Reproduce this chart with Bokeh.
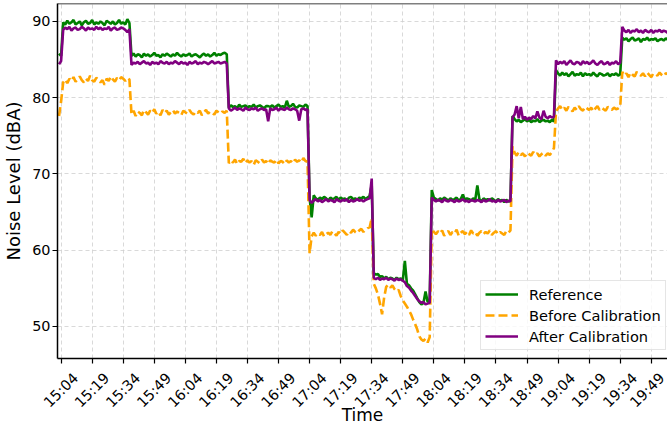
import math
from datetime import datetime, timedelta

from bokeh.plotting import figure
from bokeh.models import (Range1d, FixedTicker, CustomJSTickFormatter, DatetimeAxis,
                          Legend, LegendItem, Span, ColumnDataSource)
from bokeh.embed import file_html
from bokeh.resources import INLINE

# One reading per minute, starting at 15:03
start_time = datetime(2024, 5, 20, 15, 3)

reference = [
    85.8, 85.5,
    # 15:05 - 15:37
    89.9, 89.6, 90.1, 89.7, 89.9, 90.2, 89.6, 89.8, 90.0, 89.5,
    89.9, 90.1, 89.7, 89.8, 90.2, 89.6, 89.9, 89.7, 90.0, 89.8,
    89.5, 90.1, 89.9, 89.7, 90.0, 89.6, 89.8, 90.2, 89.7, 89.9,
    89.6, 90.3, 89.8,
    # 15:38 - 16:24
    85.5, 85.8, 85.4, 85.7, 85.6, 85.3, 85.8, 85.5, 85.7, 85.4,
    85.6, 85.9, 85.5, 85.6, 85.3, 85.7, 85.5, 85.8, 85.6, 85.4,
    85.7, 85.5, 85.9, 85.6, 85.4, 85.7, 85.5, 85.6, 85.8, 85.4,
    85.6, 85.7, 85.5, 85.3, 85.6, 85.8, 85.5, 85.7, 85.4, 85.6,
    85.9, 85.5, 85.7, 85.6, 85.8, 85.9, 85.7,
    # 16:25 - 17:03
    78.7, 79.0, 78.8, 78.9, 78.6, 79.1, 78.8, 78.9, 79.0, 78.7,
    78.9, 78.8, 79.1, 78.7, 78.9, 79.0, 78.8, 78.6, 78.9, 78.9,
    78.8, 79.0, 78.7, 78.9, 79.1, 78.8, 78.9, 78.7, 79.6, 78.8,
    78.9, 79.2, 78.8, 78.7, 79.0, 78.9, 78.8, 79.1, 78.9,
    # 17:04 - 17:34
    66.9, 64.3, 67.2, 66.8, 66.6, 66.9, 66.7, 67.0, 66.8, 66.5,
    66.9, 66.7, 66.8, 67.0, 66.6, 66.9, 66.7, 66.8, 66.5, 66.9,
    67.0, 66.7, 66.8, 66.6, 66.9, 66.8, 67.0, 66.7, 66.9, 67.1,
    68.6,
    # 17:35 - 18:02
    57.0, 56.8, 56.9, 56.5, 56.6, 56.3, 56.5, 56.2, 56.4, 56.3,
    56.1, 56.4, 56.2, 56.3, 56.0, 58.6, 55.6, 55.4, 55.0, 54.7,
    54.2, 53.7, 53.2, 52.9, 53.1, 54.6, 53.2, 53.4,
    # 18:03 - 18:41
    67.9, 66.9, 66.7, 66.5, 66.8, 66.6, 66.9, 66.7, 66.5, 66.8,
    66.6, 66.7, 66.9, 66.5, 66.7, 67.3, 66.6, 66.8, 66.7, 66.5,
    66.8, 66.6, 68.5, 66.7, 66.4, 66.8, 66.6, 66.7, 66.5, 66.8,
    66.6, 66.4, 66.7, 66.5, 66.6, 66.3, 66.6, 66.4, 66.5,
    # 18:42 - 19:02
    77.6, 77.2, 76.9, 77.1, 76.8, 77.0, 77.2, 76.9, 77.1, 76.8,
    77.0, 76.9, 77.2, 76.8, 77.0, 77.1, 76.9, 77.0, 76.8, 77.1,
    76.9,
    # 19:03 - 19:34
    83.6, 83.2, 82.9, 83.3, 83.0, 83.2, 82.8, 83.1, 83.4, 82.9,
    83.1, 83.0, 83.3, 82.8, 83.2, 83.0, 83.1, 82.9, 83.3, 83.0,
    82.8, 83.2, 83.1, 82.9, 83.0, 83.2, 82.8, 83.1, 83.0, 83.2,
    82.9, 83.1,
    # 19:35 - 19:58
    87.9, 87.6, 87.8, 87.4, 87.7, 87.9, 87.5, 87.6, 87.8, 87.3,
    87.7, 87.6, 87.9, 87.5, 87.7, 87.6, 87.8, 87.4, 87.6, 87.7,
    87.5, 87.8, 87.6, 87.7,
]

before_calibration = [
    77.6, 79.5,
    82.0, 82.4, 81.9, 82.5, 82.2, 82.7, 82.1, 82.4, 82.8, 82.3,
    82.0, 82.5, 82.2, 82.9, 82.3, 82.1, 82.6, 82.4, 82.0, 82.3,
    81.7, 82.5, 82.2, 82.8, 82.4, 82.1, 82.6, 82.3, 82.7, 82.5,
    82.2, 82.6, 82.4,
    77.8, 78.3, 77.6, 78.2, 78.0, 77.7, 78.4, 78.1, 77.8, 78.3,
    78.0, 78.5, 77.9, 78.2, 77.7, 78.4, 78.0, 78.3, 77.8, 78.1,
    78.4, 77.9, 78.2, 78.0, 77.7, 78.3, 78.1, 77.9, 78.4, 78.0,
    77.8, 78.2, 78.0, 78.3, 77.7, 78.1, 78.4, 77.9, 78.2, 78.0,
    77.8, 78.3, 78.1, 77.9, 78.2, 78.0, 78.3,
    71.4, 71.8, 71.5, 71.9, 71.3, 71.7, 71.6, 72.0, 71.4, 71.8,
    71.5, 71.7, 71.2, 71.8, 71.6, 71.4, 71.9, 71.5, 71.7, 71.3,
    71.8, 71.6, 71.5, 71.9, 71.4, 71.7, 71.6, 71.3, 71.8, 71.5,
    71.7, 71.4, 71.9, 71.6, 71.8, 71.5, 72.1, 71.7, 71.6,
    59.6, 61.8, 62.3, 61.9, 62.2, 62.0, 62.4, 61.8, 62.1, 62.3,
    62.0, 62.5, 62.2, 61.9, 62.4, 62.1, 62.6, 62.3, 62.0, 62.5,
    62.3, 62.7, 62.4, 62.2, 62.6, 62.8, 62.4, 62.7, 62.9, 63.0,
    64.2,
    55.6, 55.0, 54.2, 53.0, 51.6, 53.8, 55.2, 55.5, 55.1, 55.4,
    54.9, 54.6, 54.8, 54.0, 53.4, 53.0, 52.6, 52.1, 51.6, 50.9,
    50.3, 49.6, 48.7, 48.3, 48.1, 48.4, 47.9, 48.6,
    62.8, 62.4, 62.1, 62.5, 62.2, 62.6, 61.9, 62.3, 62.5, 62.0,
    62.4, 62.2, 62.7, 61.9, 62.3, 62.5, 62.1, 62.4, 62.0, 62.6,
    62.2, 62.4, 61.9, 62.3, 62.5, 62.1, 62.4, 62.2, 62.6, 62.0,
    62.3, 62.5, 62.1, 62.4, 62.2, 62.0, 62.5, 62.3, 62.6,
    73.6, 72.8, 72.4, 72.9, 72.5, 72.7, 72.3, 72.8, 72.6, 72.4,
    72.9, 72.5, 72.7, 72.3, 72.6, 72.8, 72.4, 72.7, 72.5, 72.9,
    73.4,
    78.2, 78.6, 78.9, 78.4, 78.7, 78.3, 78.8, 78.5, 78.2, 78.7,
    78.4, 78.9, 78.5, 78.3, 78.8, 78.6, 78.4, 78.7, 78.2, 78.6,
    78.9, 78.4, 78.7, 78.5, 78.3, 78.8, 78.6, 78.4, 78.7, 78.5,
    78.6, 78.8,
    83.4, 82.9, 83.2, 82.7, 83.3, 83.0, 82.8, 83.4, 83.1, 82.9,
    83.2, 82.8, 83.3, 83.0, 82.7, 83.2, 83.1, 82.9, 83.3, 83.0,
    82.8, 83.2, 83.1, 82.9,
]

after_calibration = [
    84.4, 84.8,
    88.9, 89.2, 89.0, 89.3, 88.8, 89.1, 89.2, 88.9, 89.0, 89.3,
    89.1, 88.8, 89.2, 89.0, 89.1, 88.9, 89.3, 89.0, 89.2, 88.9,
    89.1, 89.0, 89.3, 88.8, 89.1, 89.2, 88.9, 89.0, 89.2, 89.1,
    88.9, 88.6, 89.0,
    84.3, 84.6, 84.5, 84.7, 84.4, 84.6, 84.8, 84.5, 84.6, 84.3,
    84.7, 84.5, 84.6, 84.4, 84.8, 84.6, 84.5, 84.7, 84.4, 84.6,
    84.5, 84.8, 84.6, 84.4, 84.7, 84.5, 84.6, 84.3, 84.7, 84.5,
    84.6, 84.8, 84.4, 84.6, 84.5, 84.7, 84.6, 84.4, 84.6, 84.8,
    84.5, 84.6, 84.7, 84.5, 84.6, 84.7, 84.5,
    78.6, 78.3, 78.5, 78.7, 78.4, 78.6, 78.5, 78.3, 78.7, 78.5,
    78.4, 78.6, 78.5, 78.7, 78.3, 78.5, 78.6, 78.4, 78.5, 76.9,
    78.6, 78.4, 78.5, 78.7, 78.3, 78.6, 78.5, 78.4, 78.7, 78.5,
    78.4, 78.6, 78.5, 78.3, 77.0, 78.5, 78.6, 78.4, 78.5,
    66.6, 66.2, 66.5, 66.7, 66.4, 66.6, 66.3, 66.5, 66.7, 66.4,
    66.6, 66.5, 66.3, 66.7, 66.5, 66.4, 66.6, 66.5, 66.7, 66.3,
    66.6, 66.4, 66.5, 66.7, 66.5, 66.6, 66.4, 66.6, 66.7, 66.8,
    69.4,
    56.4, 56.2, 56.4, 56.1, 56.3, 56.2, 56.4, 56.1, 56.3, 56.2,
    56.0, 56.3, 56.1, 56.2, 56.0, 55.8, 55.3, 55.1, 54.7, 54.4,
    54.0, 53.6, 53.3, 53.1, 53.2, 52.9, 53.0, 53.1,
    66.9, 66.6, 66.4, 66.6, 66.5, 66.3, 66.7, 66.5, 66.4, 66.6,
    66.5, 66.3, 66.6, 66.4, 66.5, 66.7, 66.4, 66.5, 66.3, 66.6,
    66.5, 66.4, 66.6, 66.5, 66.3, 66.6, 66.4, 66.5, 66.7, 66.4,
    66.5, 66.3, 66.6, 66.4, 66.5, 66.6, 66.3, 66.5, 66.4,
    77.4, 77.8, 78.9, 77.3, 78.8, 77.2, 77.5, 77.1, 77.4, 77.2,
    77.6, 77.3, 78.2, 77.4, 77.2, 78.3, 77.5, 77.3, 77.6, 77.4,
    77.5,
    84.9, 84.4, 84.7, 84.5, 84.8, 84.3, 84.6, 84.9, 84.5, 84.4,
    84.7, 84.6, 84.3, 84.8, 84.5, 84.7, 84.4, 84.6, 84.9, 84.5,
    84.3, 84.6, 84.8, 84.4, 84.5, 84.7, 84.3, 84.6, 84.5, 84.8,
    84.4, 84.6,
    89.3, 88.8, 88.6, 88.9, 88.5, 88.8, 88.7, 89.0, 88.6, 88.8,
    88.5, 88.9, 88.7, 88.6, 88.9, 88.5, 88.8, 88.7, 88.9, 88.6,
    88.8, 88.7, 88.5, 88.8,
]

tick_labels = ["15:04", "15:19", "15:34", "15:49", "16:04", "16:19", "16:34",
               "16:49", "17:04", "17:19", "17:34", "17:49", "18:04", "18:19",
               "18:34", "18:49", "19:04", "19:19", "19:34", "19:49"]
y_ticks = [50, 60, 70, 80, 90]

FONT = "DejaVu Sans"
EPOCH = datetime(1970, 1, 1)
Y_LOW, Y_HIGH = 45.8, 92.36
# slanted labels hang from their upper-right end, which sits this far right of the tick
LABEL_SHIFT_MS = 7.0 * 60 * 1000


def to_ms(dt):
    return (dt - EPOCH).total_seconds() * 1000.0


def minute_times(values):
    return [start_time + timedelta(minutes=i) for i in range(len(values))]


def at_clock(label):
    hh, mm = label.split(":")
    return start_time.replace(hour=int(hh), minute=int(mm))


x_start = start_time + timedelta(seconds=-44)
x_end = start_time + timedelta(minutes=293, seconds=50)

p = figure(width=667, height=428, x_axis_type="datetime",
           x_range=Range1d(x_start, x_end), y_range=Range1d(Y_LOW, Y_HIGH),
           output_backend="svg", toolbar_location=None,
           min_border_left=54, min_border_right=0,
           min_border_top=3, min_border_bottom=70)
p.outline_line_color = None
p.background_fill_color = "white"
p.border_fill_color = "white"

src_ref = ColumnDataSource(dict(t=minute_times(reference), v=reference))
src_before = ColumnDataSource(dict(t=minute_times(before_calibration), v=before_calibration))
src_after = ColumnDataSource(dict(t=minute_times(after_calibration), v=after_calibration))

r_ref = p.line("t", "v", source=src_ref, line_color="green", line_width=2.6)
r_before = p.line("t", "v", source=src_before, line_color="orange", line_width=2.6,
                  line_dash="9 4")
r_after = p.line("t", "v", source=src_after, line_color="purple", line_width=2.6)

# top spine
p.add_layout(Span(location=Y_HIGH, dimension="width", line_color="black", line_width=1.5))

tick_ms = [to_ms(at_clock(s)) for s in tick_labels]

# bottom axis: line and tick marks only
x_axis = p.xaxis[0]
x_axis.ticker = FixedTicker(ticks=tick_ms)
x_axis.formatter = CustomJSTickFormatter(code="return ''")
x_axis.major_label_text_font_size = "0px"
x_axis.major_label_standoff = 0

y_axis = p.yaxis[0]
y_axis.ticker = FixedTicker(ticks=y_ticks)
y_axis.major_label_text_font = FONT
y_axis.major_label_text_font_size = "14.4px"
y_axis.major_label_text_color = "black"
y_axis.major_label_standoff = 2
y_axis.axis_label = "Noise Level (dBA)"
y_axis.axis_label_text_font = FONT
y_axis.axis_label_text_font_size = "18px"
y_axis.axis_label_text_font_style = "normal"
y_axis.axis_label_text_color = "black"
y_axis.axis_label_standoff = 5

for ax in (x_axis, y_axis):
    ax.axis_line_color = "black"
    ax.axis_line_width = 1.5
    ax.major_tick_line_color = "black"
    ax.major_tick_line_width = 1.2
    ax.major_tick_out = 5
    ax.major_tick_in = 0
    ax.minor_tick_line_color = None

# second bottom axis carries the slanted clock labels and the axis title
label_axis = DatetimeAxis(
    ticker=FixedTicker(ticks=[t + LABEL_SHIFT_MS for t in tick_ms]),
    formatter=CustomJSTickFormatter(args=dict(shift=LABEL_SHIFT_MS), code="""
        const d = new Date(tick - shift);
        const h = String(d.getUTCHours()).padStart(2, '0');
        const m = String(d.getUTCMinutes()).padStart(2, '0');
        return h + ':' + m;
    """),
    major_label_orientation=math.pi / 4,
    axis_line_color=None, major_tick_line_color=None, minor_tick_line_color=None,
    major_tick_out=0, major_tick_in=0, minor_tick_out=0, minor_tick_in=0,
    major_label_standoff=12,
    major_label_text_font=FONT, major_label_text_font_size="14.4px",
    major_label_text_color="black",
    axis_label="Time", axis_label_text_font=FONT, axis_label_text_font_size="17px",
    axis_label_text_font_style="normal", axis_label_text_color="black",
    axis_label_standoff=-14,
)
p.add_layout(label_axis, "below")

# grid
for g in (p.xgrid[0], p.ygrid[0]):
    g.grid_line_color = "#cfcfcf"
    g.grid_line_dash = "4 3"
    g.grid_line_width = 0.8

legend = Legend(items=[
    LegendItem(label="Reference", renderers=[r_ref]),
    LegendItem(label="Before Calibration", renderers=[r_before]),
    LegendItem(label="After Calibration", renderers=[r_after]),
], location=(423, 8))
legend.label_text_font = FONT
legend.label_text_font_size = "14.6px"
legend.label_text_color = "black"
legend.glyph_width = 33
legend.glyph_height = 18
legend.label_height = 18
legend.label_standoff = 11
legend.spacing = 3
legend.padding = 4
legend.margin = 0
legend.border_line_color = "#cccccc"
legend.border_line_width = 1
legend.background_fill_color = "white"
legend.background_fill_alpha = 0.8
p.add_layout(legend)

open("out.html", "w").write(file_html(p, INLINE))
